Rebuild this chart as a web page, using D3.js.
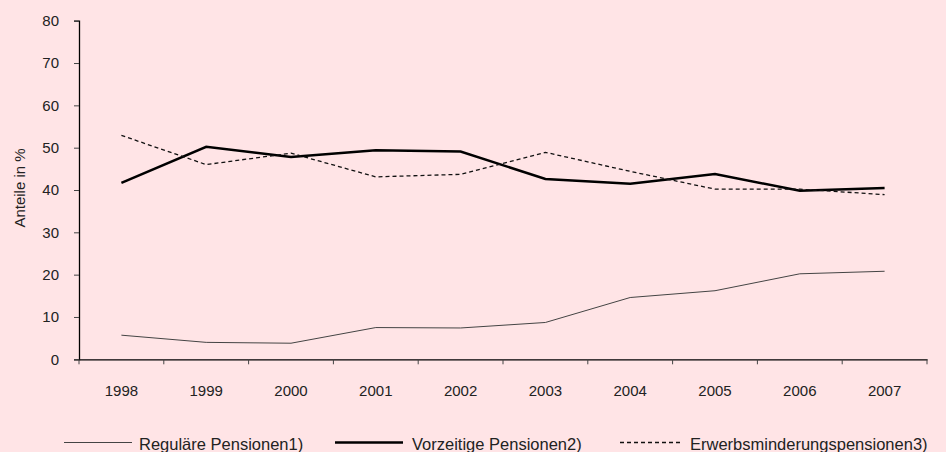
<!DOCTYPE html>
<html>
<head>
<meta charset="utf-8">
<script src="https://cdn.jsdelivr.net/npm/d3@7"></script>
<style>
  body { margin: 0; background: #ffe4e6; }
  text { font-family: "Liberation Sans", Arial, sans-serif; fill: #222; }
</style>
</head>
<body>
<script>
var years = ["1998", "1999", "2000", "2001", "2002", "2003", "2004", "2005", "2006", "2007"];
var regulaer = [5.7, 4.0, 3.8, 7.5, 7.4, 8.7, 14.6, 16.2, 20.2, 20.8];
var vorzeitig = [41.7, 50.2, 47.8, 49.4, 49.1, 42.6, 41.5, 43.8, 39.8, 40.5];
var erwerb = [52.9, 46.0, 48.7, 43.1, 43.7, 48.9, 44.4, 40.2, 40.2, 38.9];
var yTicks = [0, 10, 20, 30, 40, 50, 60, 70, 80];
var seriesNames = ["Reguläre Pensionen1)", "Vorzeitige Pensionen2)", "Erwerbsminderungspensionen3)"];

var w = 946, h = 452;
var plotLeft = 79, plotRight = 927, plotTop = 20.7, plotBottom = 359.3;

var svg = d3.select("body").append("svg")
	.attr("width", w)
	.attr("height", h)

svg.append("rect").attr("width", w).attr("height", h).attr("fill", "#ffe4e6")

var x = d3.scaleBand().domain(years).range([plotLeft, plotRight])
var y = d3.scaleLinear().domain([0, 80]).range([plotBottom, plotTop])

// y axis
var yAxis = svg.append("g")
	.attr("transform", "translate(" + plotLeft + ",0)")
	.call(d3.axisLeft(y).tickValues(yTicks).tickSize(5).tickPadding(15))
yAxis.select(".domain").attr("stroke", "#000").attr("stroke-width", 1.3)
yAxis.selectAll(".tick line").attr("stroke", "#444")
yAxis.selectAll("text").attr("font-size", "15px").attr("font-family", "Liberation Sans, Arial, sans-serif").attr("fill", "#222")

// x axis, ticks at band edges
var xAxis = svg.append("g")
	.attr("transform", "translate(0," + plotBottom + ")")
	.call(d3.axisBottom(x).tickSize(0).tickPadding(26))
xAxis.select(".domain").attr("stroke", "#000").attr("stroke-width", 1.3)
xAxis.selectAll("text").attr("font-size", "15px").attr("font-family", "Liberation Sans, Arial, sans-serif").attr("fill", "#222")
var edges = years.map(function(d) { return x(d) }).concat([x(years[years.length - 1]) + x.bandwidth()])
svg.selectAll(".xtick")
	.data(edges)
	.enter()
	.append("line")
	.attr("x1", function(d) { return d })
	.attr("x2", function(d) { return d })
	.attr("y1", plotBottom)
	.attr("y2", plotBottom + 5)
	.attr("stroke", "#444")

svg.append("text")
	.attr("transform", "translate(25,188) rotate(-90)")
	.attr("text-anchor", "middle")
	.attr("font-size", "15px")
	.text("Anteile in %")

var line = d3.line()
	.x(function(d, i) { return x(years[i]) + x.bandwidth() / 2 })
	.y(function(d) { return y(d) })

var styles = [
	{ data: regulaer, stroke: "#444", width: 1, dash: null },
	{ data: vorzeitig, stroke: "#000", width: 2.5, dash: null },
	{ data: erwerb, stroke: "#111", width: 1.3, dash: "4,3" }
]

styles.forEach(function(s) {
	svg.append("path")
		.attr("d", line(s.data))
		.attr("fill", "none")
		.attr("stroke", s.stroke)
		.attr("stroke-width", s.width)
		.attr("stroke-dasharray", s.dash)
})

// legend
var legX = [[64, 132, 139], [335, 403, 412], [620, 681, 690]]
var legY = 442.5
styles.forEach(function(s, i) {
	svg.append("line")
		.attr("x1", legX[i][0]).attr("x2", legX[i][1])
		.attr("y1", legY).attr("y2", legY)
		.attr("stroke", s.stroke)
		.attr("stroke-width", s.width)
		.attr("stroke-dasharray", s.dash)
	svg.append("text")
		.attr("x", legX[i][2])
		.attr("y", legY + 7)
		.attr("font-size", "16.5px")
		.text(seriesNames[i])
})
</script>
</body>
</html>
